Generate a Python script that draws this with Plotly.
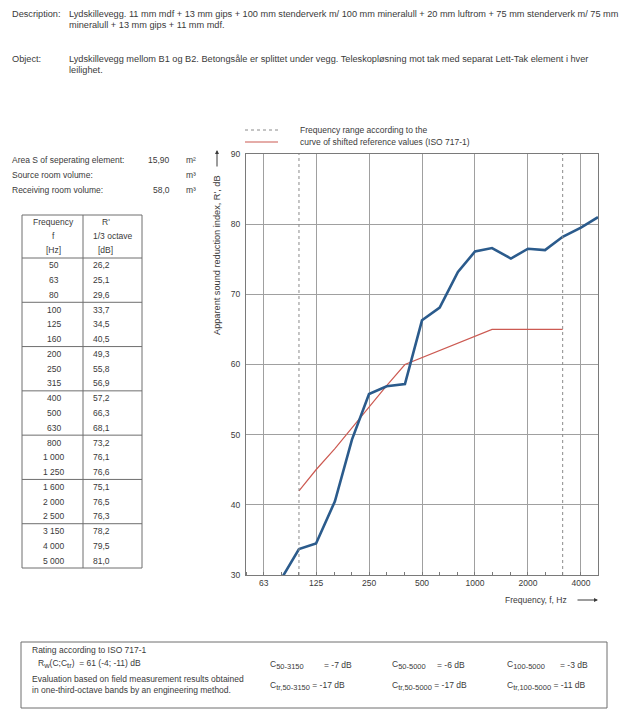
import plotly.graph_objects as go

# Third-octave band centre frequencies and measured apparent sound reduction index R'
freqs = [50, 63, 80, 100, 125, 160, 200, 250, 315, 400, 500, 630,
         800, 1000, 1250, 1600, 2000, 2500, 3150, 4000, 5000]
r_prime = [26.2, 25.1, 29.6, 33.7, 34.5, 40.5, 49.3, 55.8, 56.9, 57.2, 66.3, 68.1,
           73.2, 76.1, 76.6, 75.1, 76.5, 76.3, 78.2, 79.5, 81.0]

# Shifted ISO 717-1 reference curve (100 - 3150 Hz)
ref_freqs = [100, 125, 160, 200, 250, 315, 400, 500, 630, 800, 1000,
             1250, 1600, 2000, 2500, 3150]
ref_values = [42, 45, 48, 51, 54, 57, 60, 61, 62, 63, 64, 65, 65, 65, 65, 65]

octave_ticks = [63, 125, 250, 500, 1000, 2000, 4000]
octave_labels = ["63", "125", "250", "500", "1000", "2000", "4000"]
range_limits = [100, 3150]

W, H = 620, 713
ML, MR, MT, MB = 246, 22, 154, 138
PW, PH = W - ML - MR, H - MT - MB

FONT = "Liberation Sans, Arial, sans-serif"
TXT = "#3a3a3a"
GRID = "#a0a0a0"
BLUE = "#2b5b8c"
RED = "#cc5a52"
DASH = "3px,3px"


def px(x):
    return (x - ML) / PW


def py(y):
    return (H - MB - y) / PH


annotations = []
shapes = []


def note(x, y, text, anchor="left", size=8.5, **kw):
    annotations.append(dict(
        x=px(x), y=py(y), xref="paper", yref="paper", text=text,
        showarrow=False, xanchor=anchor, yanchor="middle",
        font=dict(family=FONT, size=size, color=TXT), **kw))


def line(x0, y0, x1, y1, color="#6e6e6e", width=1, dash="solid"):
    shapes.append(dict(type="line", xref="paper", yref="paper",
                       x0=px(x0), y0=py(y0), x1=px(x1), y1=py(y1),
                       line=dict(color=color, width=width, dash=dash)))


def arrow(x, y, dx, dy):
    annotations.append(dict(x=px(x), y=py(y), xref="paper", yref="paper", text="",
                            showarrow=True, ax=dx, ay=dy, axref="pixel", ayref="pixel",
                            arrowhead=2, arrowsize=0.8, arrowwidth=1, arrowcolor=TXT))


def sub(txt):
    return f"<sub><span style='font-size:7.5px'>{txt}</span></sub>"


fig = go.Figure()

fig.add_trace(go.Scatter(x=ref_freqs, y=ref_values, mode="lines",
                         line=dict(color=RED, width=1.2), showlegend=False,
                         hoverinfo="skip"))
fig.add_trace(go.Scatter(x=freqs, y=r_prime, mode="lines",
                         line=dict(color=BLUE, width=2.6), showlegend=False))

# dashed frequency-range limits
for f in range_limits:
    shapes.append(dict(type="line", xref="x", yref="paper", x0=f, x1=f, y0=0, y1=1,
                       line=dict(color="#8a8a8a", width=1, dash=DASH)))

# header texts
HS = 9.2
note(10, 14, "Description:", size=HS)
note(67, 14, "Lydskillevegg. 11 mm mdf + 13 mm gips + 100 mm stenderverk m/ 100 mm mineralull"
             " + 20 mm luftrom + 75 mm stenderverk m/ 75 mm", size=HS)
note(67, 25, "mineralull + 13 mm gips + 11 mm mdf.", size=HS)
note(10, 59, "Object:", size=HS)
note(67, 59, "Lydskillevegg mellom B1 og B2. Betongsåle er splittet under vegg. "
             "Teleskopløsning mot tak med separat Lett-Tak element i hver", size=HS)
note(67, 70, "leilighet.", size=HS)

# room data
note(10, 160, "Area S of seperating element:")
note(172, 160, "15,90", anchor="right")
note(184, 160, "m²")
note(10, 175, "Source room volume:")
note(184, 175, "m³")
note(10, 190, "Receiving room volume:")
note(172, 190, "58,0", anchor="right")
note(184, 190, "m³")

# measurement table
TL, TM, TR, TT, TS, TB = 22, 83, 142, 215, 258, 568
shapes.append(dict(type="rect", xref="paper", yref="paper",
                   x0=px(TL), x1=px(TR), y0=py(TB), y1=py(TT),
                   line=dict(color="#6e6e6e", width=1)))
line(TM, TT, TM, TB)
line(TL, TS, TR, TS)
note(53, 222, "Frequency", anchor="center")
note(53, 236, "f", anchor="center")
note(53, 250, "[Hz]", anchor="center")
note(106, 222, "R'", anchor="center")
note(112, 236, "1/3 octave", anchor="center")
note(105, 250, "[dB]", anchor="center")

group_h = (TB - TS) / 7
for g in range(1, 7):
    line(TL, TS + g * group_h, TR, TS + g * group_h)
for i, (f, v) in enumerate(zip(freqs, r_prime)):
    g, k = divmod(i, 3)
    yc = TS + g * group_h + group_h * (2 * k + 1) / 6
    ftxt = f"{f:,}".replace(",", " ")
    note(54, yc, ftxt, anchor="center")
    note(91, yc, f"{v:.1f}".replace(".", ","))

# legend
line(245, 130, 278, 130, color="#8a8a8a", dash=DASH)
line(245, 142, 278, 142, color=RED, width=1.2)
note(298, 130, "Frequency range according to the")
note(298, 142, "curve of shifted reference values (ISO 717-1)")

# axis titles with arrows
note(217, 255, "Apparent sound reduction index, R', dB", anchor="center",
     size=9.2, textangle=-90)
arrow(217, 150, 0, 18)
note(503, 600, "Frequency, f, Hz")
arrow(598, 600, -22, 0)

# rating box
shapes.append(dict(type="rect", xref="paper", yref="paper",
                   x0=px(21), x1=px(607), y0=py(708), y1=py(642),
                   line=dict(color="#6e6e6e", width=1)))
note(30, 650, "Rating according to ISO 717-1")
note(36, 664, "R" + sub("w") + "(C;C" + sub("tr") + ")  = 61 (-4; -11) dB")
note(30, 679, "Evaluation based on field measurement results obtained")
note(30, 690, "in one-third-octave bands by an engineering method.")
note(268, 665, "C" + sub("50-3150"))
note(322, 665, "= -7 dB")
note(268, 686, "C" + sub("tr,50-3150") + " = -17 dB")
note(390, 665, "C" + sub("50-5000"))
note(435, 665, "= -6 dB")
note(390, 686, "C" + sub("tr,50-5000") + " = -17 dB")
note(505, 665, "C" + sub("100-5000"))
note(558, 665, "= -3 dB")
note(505, 686, "C" + sub("tr,100-5000") + " = -11 dB")

fig.update_layout(
    width=W, height=H,
    margin=dict(l=ML, r=MR, t=MT, b=MB),
    paper_bgcolor="white", plot_bgcolor="white",
    font=dict(family=FONT, size=8.5, color=TXT),
    showlegend=False,
    shapes=shapes, annotations=annotations,
    xaxis=dict(type="log", range=[1.69897, 3.69897],
               tickvals=octave_ticks, ticktext=octave_labels,
               showgrid=True, gridcolor=GRID, gridwidth=1,
               ticks="", showline=True, linecolor="#7a7a7a", mirror=True,
               zeroline=False, tickfont=dict(size=8.5, color=TXT),
               minor=dict(tickvals=freqs, ticks="inside", ticklen=3,
                          tickcolor="#7a7a7a", showgrid=False)),
    yaxis=dict(range=[30, 90], dtick=10, showgrid=True, gridcolor=GRID, gridwidth=1,
               ticks="", showline=True, linecolor="#7a7a7a", mirror=True,
               zeroline=False, tickfont=dict(size=8.5, color=TXT),
               ticklabelstandoff=3),
)

fig.write_html("out.html")
